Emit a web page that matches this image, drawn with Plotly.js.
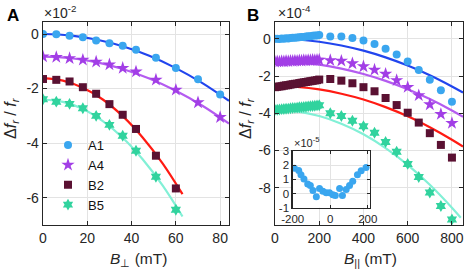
<!DOCTYPE html>
<html>
<head>
<meta charset="utf-8">
<script src="https://cdn.plot.ly/plotly-3.0.1.min.js"></script>
<style>html,body{margin:0;padding:0;background:#fff;}#chart{width:468px;height:273px;}</style>
</head>
<body>
<div id="chart"></div>
<script>
// ---- Panel A data (B_perp in mT, values in units of 1e-2) ----
var bPerp = [0, 6, 12, 18, 24, 30, 36, 42, 51, 60, 70, 80];
var aA1 = [0, -0.01, -0.06, -0.12, -0.24, -0.34, -0.43, -0.58, -0.87, -1.25, -1.66, -2.22];
var aA4 = [-0.83, -0.85, -0.89, -0.95, -1.02, -1.12, -1.25, -1.38, -1.68, -2.05, -2.51, -3.05];
var bPerpB = [0, 6, 12, 18, 24, 30, 36, 42, 51, 60];
var aB2 = [-1.65, -1.68, -1.74, -1.95, -2.19, -2.57, -2.96, -3.48, -4.46, -5.66];
var aB5 = [-2.39, -2.48, -2.56, -2.72, -3.0, -3.33, -3.73, -4.28, -5.23, -6.44];
// fit curves, panel A
var fitPerpA = [0, 12, 24, 36, 48, 60, 72, 84];
var fitA1 = [0, -0.05, -0.2, -0.45, -0.8, -1.25, -1.8, -2.45];
var fitA4 = [-0.83, -0.88, -1.03, -1.28, -1.63, -2.08, -2.63, -3.28];
var fitPerpB = [0, 9, 18, 27, 36, 45, 54, 63];
var fitB2 = [-1.62, -1.71, -1.97, -2.4, -3.01, -3.79, -4.74, -5.87];
var fitB5 = [-2.4, -2.49, -2.75, -3.19, -3.8, -4.59, -5.55, -6.69];

// ---- Panel B data (B_par in mT, values in units of 1e-4) ----
var bPar = [0,10,20,30,40,50,60,70,80,90,100,110,120,130,140,150,160,170,180,190,200,
            250,300,350,400,450,500,550,600,650,700,750,800];
var pA1 = [0,0,-0.01,0.01,0,0.03,0.02,0.04,0.05,0.06,0.07,0.08,0.09,0.1,0.12,0.13,0.14,0.16,0.17,0.18,0.2,
           0.12,0.12,0.04,-0.09,-0.28,-0.54,-0.84,-1.22,-1.68,-2.2,-2.77,-3.38];
var pA4 = [-1.24,-1.22,-1.23,-1.21,-1.22,-1.2,-1.21,-1.19,-1.2,-1.18,-1.19,-1.17,-1.18,-1.16,-1.17,-1.15,-1.16,-1.14,-1.15,-1.14,-1.13,
           -1.16,-1.19,-1.33,-1.49,-1.67,-1.89,-2.23,-2.6,-3.04,-3.53,-4.05,-4.53];
var pB2 = [-2.6,-2.58,-2.56,-2.55,-2.52,-2.5,-2.49,-2.46,-2.44,-2.42,-2.41,-2.38,-2.36,-2.34,-2.32,-2.3,-2.28,-2.26,-2.24,-2.22,-2.19,
           -2.16,-2.25,-2.39,-2.6,-2.82,-3.18,-3.56,-3.97,-4.5,-5.07,-5.7,-6.38];
var pB5 = [-3.82,-3.81,-3.8,-3.78,-3.77,-3.76,-3.75,-3.73,-3.72,-3.71,-3.7,-3.68,-3.67,-3.66,-3.65,-3.63,-3.62,-3.61,-3.6,-3.58,-3.57,
           -4.0,-4.15,-4.4,-4.7,-5.05,-5.54,-6.07,-6.72,-7.42,-8.26,-8.98,-9.7];
// fit curves, panel B
var fitPar = [0, 100, 200, 300, 400, 500, 600, 700, 800, 850];
var fitPA1 = [0, -0.04, -0.16, -0.36, -0.64, -1.0, -1.44, -1.96, -2.56, -2.89];
var fitPA4 = [-1.23, -1.27, -1.39, -1.6, -1.89, -2.26, -2.71, -3.24, -3.85, -4.19];
var fitPB2 = [-2.54, -2.59, -2.72, -2.95, -3.26, -3.67, -4.16, -4.75, -5.42, -5.79];
var fitParB5 = [0, 100, 200, 300, 400, 500, 600, 700, 800, 840];
var fitPB5 = [-3.82, -3.9, -4.15, -4.56, -5.13, -5.87, -6.77, -7.84, -9.07, -9.61];

// ---- Inset data (B_par in mT, values in units of 1e-5) ----
var insetB = [-191,-168,-156,-140,-120,-106,-92,-74,-57,-39,-21,-4,14,27,50,65,85,103,120,145,165,191];
var insetV = [1.79,1.63,1.33,1.02,0.67,0.56,0.21,-0.23,0.35,0.16,0.05,0.05,-0.09,-0.14,0.35,-0.14,0.28,0.56,0.86,1.33,1.6,1.84];

var labels = ['A1', 'A4', 'B2', 'B5'];
var mColors = ['#3aa6ef', '#a23ee6', '#5a1132', '#31d39e'];
var lColors = ['#2145ee', '#b45cf0', '#ff1a12', '#82f0d6'];
var symbols = ['circle', 'star', 'square', 'hexagram'];
var mSizes = [8, 10, 8, 9];

var traces = [];
function line(x, y, c, xa, ya) {
  traces.push({x: x, y: y, mode: 'lines', line: {color: c, width: 2.2, shape: 'spline'},
    xaxis: xa, yaxis: ya, showlegend: false, hoverinfo: 'skip'});
}
function pts(x, y, i, xa, ya, leg, size) {
  traces.push({x: x, y: y, mode: 'markers', name: labels[i],
    marker: {color: mColors[i], symbol: symbols[i], size: size || mSizes[i], line: {width: 0}},
    xaxis: xa, yaxis: ya, showlegend: leg});
}
// panel A
line(fitPerpA, fitA1, lColors[0], 'x', 'y');
line(fitPerpA, fitA4, lColors[1], 'x', 'y');
line(fitPerpB, fitB2, lColors[2], 'x', 'y');
line(fitPerpB, fitB5, lColors[3], 'x', 'y');
pts(bPerp, aA1, 0, 'x', 'y', true);
pts(bPerp, aA4, 1, 'x', 'y', true);
pts(bPerpB, aB2, 2, 'x', 'y', true);
pts(bPerpB, aB5, 3, 'x', 'y', true);
// panel B
line(fitPar, fitPA1, lColors[0], 'x2', 'y2');
line(fitPar, fitPA4, lColors[1], 'x2', 'y2');
line(fitPar, fitPB2, lColors[2], 'x2', 'y2');
line(fitParB5, fitPB5, lColors[3], 'x2', 'y2');
pts(bPar, pA1, 0, 'x2', 'y2', false);
pts(bPar, pA4, 1, 'x2', 'y2', false);
pts(bPar, pB2, 2, 'x2', 'y2', false);
pts(bPar, pB5, 3, 'x2', 'y2', false);
// inset
pts(insetB, insetV, 0, 'x3', 'y3', false, 7);

var W = 468, H = 273;
function px(x) { return x / W; }
function py(y) { return 1 - y / H; }

var font = 'Liberation Sans, Arial, sans-serif';
var axBase = {
  showline: true, mirror: 'ticks', linecolor: '#262626', linewidth: 1.3,
  ticks: 'inside', ticklen: 4, tickcolor: '#262626', tickwidth: 1,
  showgrid: true, gridcolor: '#e3e3e3', gridwidth: 1, zeroline: false,
  tickfont: {family: font, size: 14, color: '#262626'}
};
function ax(o) { return Object.assign({}, axBase, o); }

function ann(text, x, y, size, extra) {
  return Object.assign({text: text, x: px(x), y: py(y), xref: 'paper', yref: 'paper',
    xanchor: 'center', yanchor: 'middle', showarrow: false,
    font: {family: font, size: size, color: '#262626'}}, extra || {});
}

var layout = {
  width: W, height: H,
  margin: {l: 0, r: 0, t: 0, b: 0},
  paper_bgcolor: '#fff', plot_bgcolor: '#fff',
  font: {family: font, color: '#262626'},
  showlegend: true,
  legend: {x: px(48), y: py(130), xanchor: 'left', yanchor: 'top', bgcolor: 'rgba(0,0,0,0)',
    font: {family: font, size: 13, color: '#111'}, itemwidth: 30, tracegroupgap: 0},
  xaxis: ax({domain: [px(43), px(229)], range: [0, 84], tickvals: [0, 20, 40, 60, 80], anchor: 'y'}),
  yaxis: ax({domain: [py(225), py(22)], range: [-7, 0.44], tickvals: [0, -2, -4, -6], ticktext: ['0', '-2', '-4', '-6'], anchor: 'x'}),
  xaxis2: ax({domain: [px(275), px(463)], range: [0, 850], tickvals: [0, 200, 400, 600, 800], anchor: 'y2'}),
  yaxis2: ax({domain: [py(225), py(22)], range: [-10, 0.9], tickvals: [0, -2, -4, -6, -8], ticktext: ['0', '-2', '-4', '-6', '-8'], anchor: 'x2'}),
  xaxis3: ax({domain: [px(292.7), px(370)], range: [-200, 212], tickvals: [-200, 0, 200], ticktext: ['-200', '0', '200'], anchor: 'y3', ticklen: 3,
    tickfont: {family: font, size: 11.5, color: '#262626'}}),
  yaxis3: ax({domain: [py(207.7), py(151)], range: [-1, 3], tickvals: [-1, 0, 1, 2, 3], ticktext: ['-1', '0', '1', '2', '3'], anchor: 'x3', ticklen: 3,
    tickfont: {family: font, size: 11.5, color: '#262626'}}),
  annotations: [
    ann('<b>A</b>', 12.5, 15, 17, {font: {family: font, size: 17, color: '#000'}}),
    ann('<b>B</b>', 253, 15, 17, {font: {family: font, size: 17, color: '#000'}}),
    ann('×10<sup>-2</sup>', 42, 12, 14, {xanchor: 'left'}),
    ann('×10<sup>-4</sup>', 276, 12, 14, {xanchor: 'left'}),
    ann('×10<sup>-5</sup>', 292, 142, 11, {xanchor: 'left'}),
    ann('Δ<i>f</i><sub><i>r</i></sub> / <i>f</i><sub><i>r</i></sub>', 11, 118, 16, {textangle: -90}),
    ann('Δ<i>f</i><sub><i>r</i></sub> / <i>f</i><sub><i>r</i></sub>', 246, 118, 16, {textangle: -90}),
    ann('<i>B</i><sub>⊥</sub> (mT)', 138, 259, 15.5),
    ann('<i>B</i><sub>||</sub> (mT)', 370, 259, 15.5)
  ]
};

Plotly.newPlot('chart', traces, layout, {staticPlot: true, displayModeBar: false});
</script>
</body>
</html>
